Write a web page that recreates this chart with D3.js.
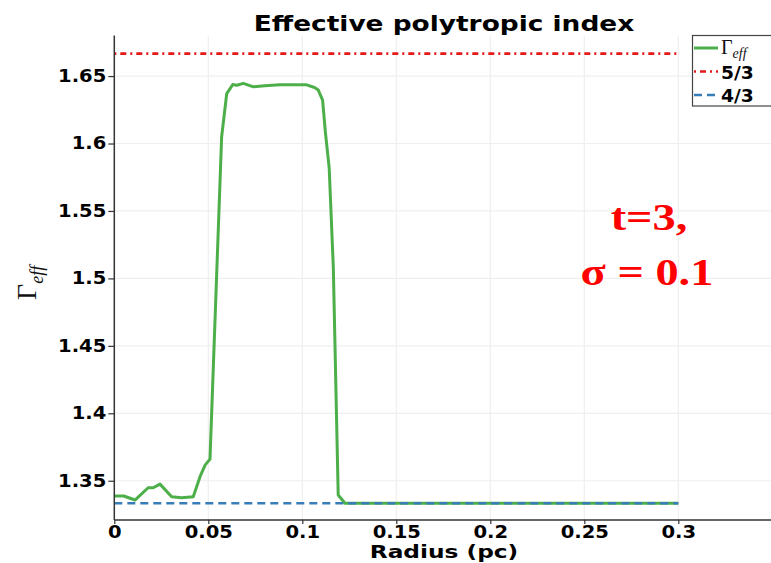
<!DOCTYPE html>
<html>
<head>
<meta charset="utf-8">
<script src="https://cdn.jsdelivr.net/npm/d3@7"></script>
<style>
  html, body { margin: 0; padding: 0; background: #fff; }
  svg { display: block; }
</style>
</head>
<body>
<svg id="chart" width="771" height="563"></svg>
<script>
// Radial profile of the effective polytropic index
const radius = [0, 0.005, 0.011, 0.018, 0.0207, 0.0243, 0.0305, 0.0358, 0.042, 0.0456, 0.0483, 0.0509,
  0.0571, 0.0598, 0.0630, 0.0651, 0.0686, 0.0740, 0.080, 0.088, 0.095, 0.1023, 0.1065, 0.1085, 0.1108,
  0.1123, 0.1143, 0.1165, 0.1191, 0.1227, 0.15, 0.2, 0.25, 0.3];
const gammaEff = [1.3387, 1.3387, 1.3357, 1.3448, 1.3448, 1.3475, 1.3381, 1.3374, 1.3381, 1.353, 1.3616, 1.366,
  1.605, 1.637, 1.6437, 1.6432, 1.6446, 1.642, 1.6428, 1.6435, 1.6435, 1.6435, 1.6415, 1.6396, 1.6322,
  1.608, 1.582, 1.508, 1.3394, 1.3333, 1.3333, 1.3333, 1.3333, 1.3333];

// Reference adiabatic indices
const refNames = ["5/3", "4/3"];
const refValues = [5 / 3, 4 / 3];
const refExtent = [0, 0.3];

const xTicks = [0, 0.05, 0.1, 0.15, 0.2, 0.25, 0.3];
const yTicks = [1.35, 1.4, 1.45, 1.5, 1.55, 1.6, 1.65];

const titleText = "Effective polytropic index";
const xLabel = "Radius (pc)";
const noteLines = ["t=3,", "σ = 0.1"];

const colors = { gamma: "#4daf4a", five: "#e41a1c", four: "#377eb8" };

const svg = d3.select("#chart");
const plotLeft = 114.3, plotRight = 772.3, plotTop = 35.6, plotBottom = 520;

const x = d3.scaleLinear().domain([0, 0.35]).range([plotLeft, plotRight]);
const y = d3.scaleLinear().domain([1.3209, 1.68]).range([plotBottom, plotTop]);

function stretch(sel, f) {
  sel.each(function () {
    const l = this.getComputedTextLength();
    d3.select(this).attr("textLength", l * f).attr("lengthAdjust", "spacingAndGlyphs");
  });
}

// grid
const grid = svg.append("g").attr("stroke", "#efefef").attr("stroke-width", 1.2);
grid.selectAll("line.v").data(xTicks.slice(1)).join("line").attr("class", "v")
  .attr("x1", d => x(d)).attr("x2", d => x(d)).attr("y1", plotTop).attr("y2", plotBottom);
grid.selectAll("line.h").data(yTicks).join("line").attr("class", "h")
  .attr("x1", plotLeft).attr("x2", plotRight).attr("y1", d => y(d)).attr("y2", d => y(d));

// main curve
const line = d3.line().x((d, i) => x(radius[i])).y(d => y(d));
svg.append("path").datum(gammaEff)
  .attr("d", line)
  .attr("fill", "none")
  .attr("stroke", colors.gamma)
  .attr("stroke-width", 3)
  .attr("stroke-linejoin", "round");

// reference lines
const refStyles = [
  { color: colors.five, dash: "2,4,6,4", width: 2.6 },
  { color: colors.four, dash: "8,5", width: 2.4 }
];
refValues.forEach((v, i) => {
  svg.append("line")
    .attr("x1", x(refExtent[0])).attr("x2", x(refExtent[1]))
    .attr("y1", y(v)).attr("y2", y(v))
    .attr("stroke", refStyles[i].color)
    .attr("stroke-width", refStyles[i].width)
    .attr("stroke-dasharray", refStyles[i].dash);
});

// axes
const xAxis = svg.append("g").attr("transform", `translate(0,${plotBottom})`)
  .call(d3.axisBottom(x).tickValues(xTicks).tickFormat(d => d3.format("")(d)).tickSize(4).tickPadding(2));
const yAxis = svg.append("g").attr("transform", `translate(${plotLeft},0)`)
  .call(d3.axisLeft(y).tickValues(yTicks).tickFormat(d => d3.format("")(d)).tickSize(6).tickPadding(2));
[xAxis, yAxis].forEach(a => {
  a.select(".domain").attr("stroke", "#333").attr("stroke-width", 1.5);
  a.selectAll(".tick line").attr("stroke", "#333").attr("stroke-width", 1.2);
  a.selectAll("text")
    .attr("font-family", "DejaVu Sans")
    .attr("font-weight", "bold")
    .attr("font-size", 17)
    .attr("fill", "#000");
});
xAxis.select(".domain").attr("d", `M${plotLeft},0H${plotRight}`);
yAxis.select(".domain").attr("d", `M0,${plotTop}V${plotBottom}`);
stretch(xAxis.selectAll("text"), 1.15);
stretch(yAxis.selectAll("text"), 1.15);

// title
const title = svg.append("text")
  .attr("x", 444).attr("y", 31)
  .attr("text-anchor", "middle")
  .attr("font-family", "DejaVu Sans").attr("font-weight", "bold").attr("font-size", 22)
  .text(titleText);
stretch(title, 1.2);

// x label
const xl = svg.append("text")
  .attr("x", 444).attr("y", 557.5)
  .attr("text-anchor", "middle")
  .attr("font-family", "DejaVu Sans").attr("font-weight", "bold").attr("font-size", 17.5)
  .text(xLabel);
stretch(xl, 1.33);

// y label
const yl = svg.append("text")
  .attr("transform", "translate(36,300) rotate(-90)")
  .attr("font-family", "Liberation Serif").attr("font-size", 28).attr("fill", "#111");
yl.append("tspan").text("Γ");
yl.append("tspan").attr("font-style", "italic").attr("font-size", 18).attr("dy", 7).text("eff");

// annotation
const notePos = [[649, 230], [647, 285]];
noteLines.forEach((t, i) => {
  const n = svg.append("text")
    .attr("x", notePos[i][0]).attr("y", notePos[i][1])
    .attr("text-anchor", "middle")
    .attr("font-family", "Liberation Serif").attr("font-weight", "bold").attr("font-size", 38)
    .attr("fill", "#ff0000")
    .text(t);
  stretch(n, 1.22);
});

// legend
const lg = svg.append("g");
lg.append("rect").attr("x", 692.5).attr("y", 35.5).attr("width", 90).attr("height", 70.5)
  .attr("fill", "#fff").attr("stroke", "#444").attr("stroke-width", 1.2);
const legendItems = [
  { color: colors.gamma, dash: null, width: 3, label: "gamma" },
  { color: colors.five, dash: "2,4,6,4", width: 2.6, label: refNames[0] },
  { color: colors.four, dash: "8,5", width: 2.4, label: refNames[1] }
];
legendItems.forEach((it, i) => {
  const cy = 48 + i * 23.5;
  lg.append("line").attr("x1", 694).attr("x2", 718).attr("y1", cy).attr("y2", cy)
    .attr("stroke", it.color).attr("stroke-width", it.width)
    .attr("stroke-dasharray", it.dash);
  if (it.label === "gamma") {
    const t = lg.append("text").attr("x", 721).attr("y", cy + 6)
      .attr("font-family", "Liberation Serif").attr("font-size", 20).attr("fill", "#111");
    t.append("tspan").text("Γ");
    t.append("tspan").attr("font-style", "italic").attr("font-size", 14).attr("dy", 4).text("eff");
  } else {
    const t = lg.append("text").attr("x", 721).attr("y", cy + 7)
      .attr("font-family", "DejaVu Sans").attr("font-weight", "bold").attr("font-size", 17)
      .text(it.label);
    stretch(t, 1.1);
  }
});
</script>
</body>
</html>
